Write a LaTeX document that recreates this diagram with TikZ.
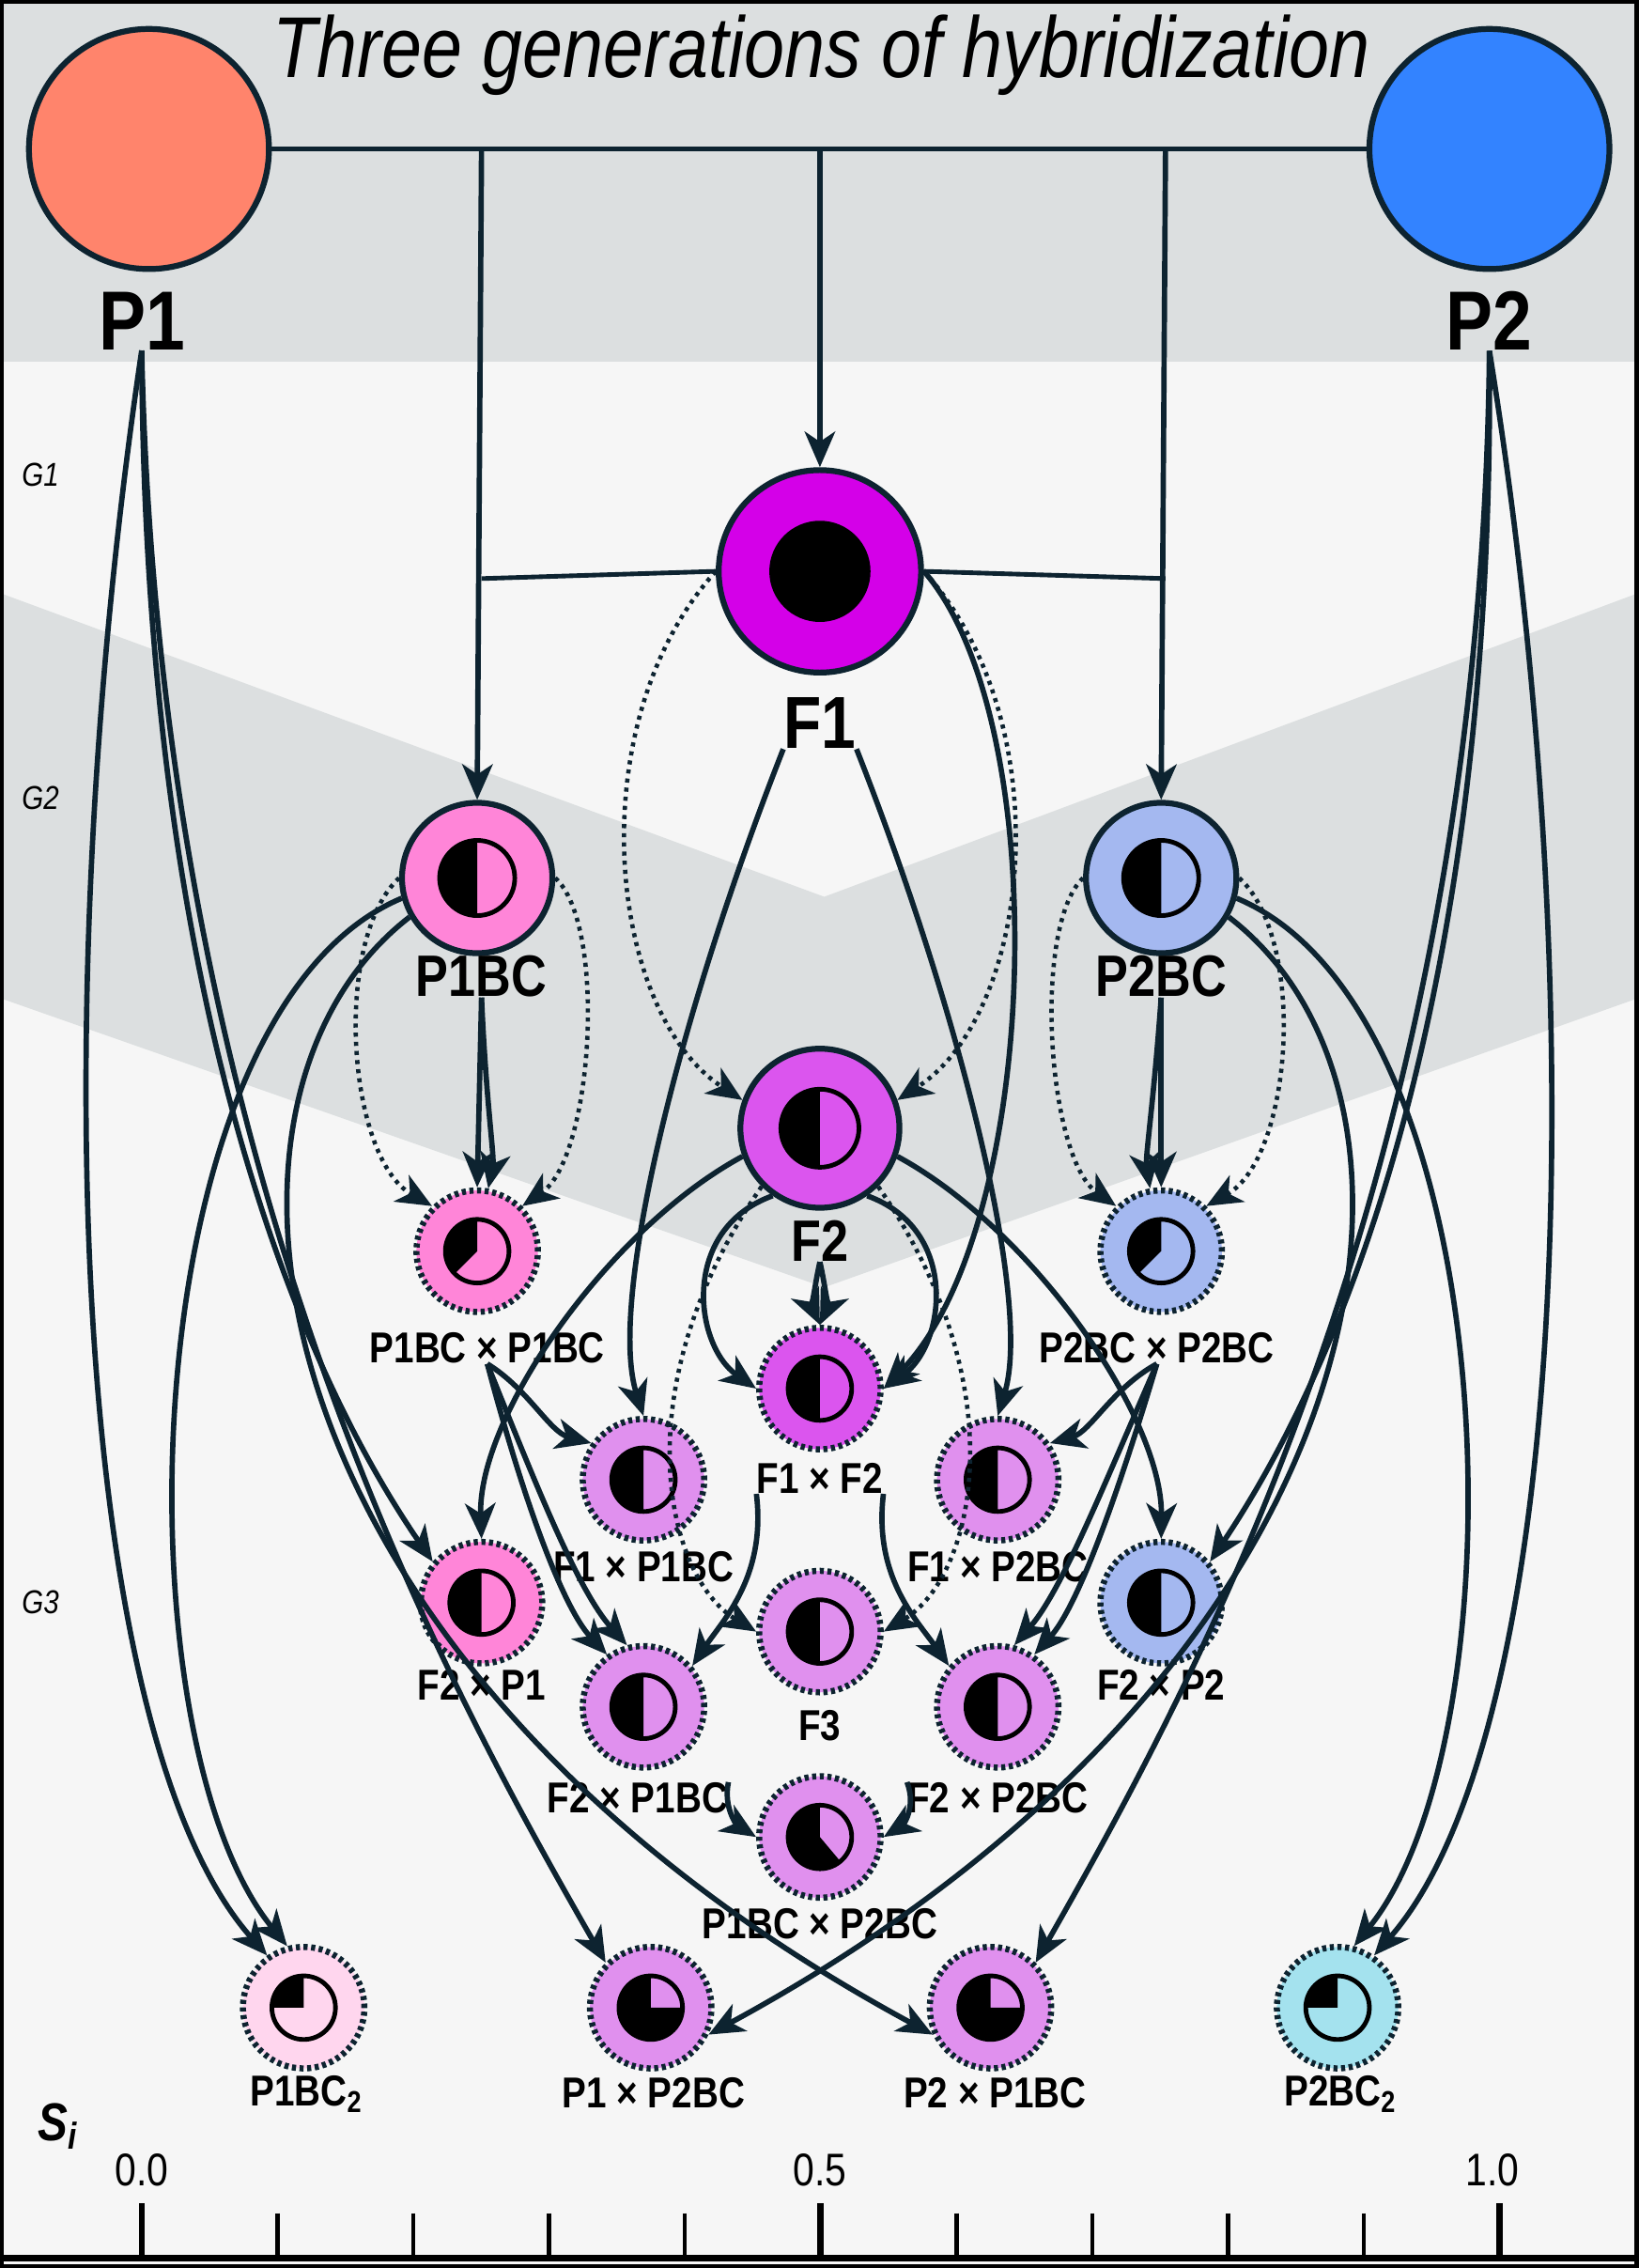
\documentclass[tikz,border=0pt]{standalone}
\usepackage{fontspec}
\setmainfont{Liberation Sans}[FakeStretch=0.84]
\usetikzlibrary{arrows.meta}
\definecolor{ink}{HTML}{0D2330}
\definecolor{bgc}{HTML}{F6F6F6}
\definecolor{band}{HTML}{DCDFE0}
\definecolor{cPone}{HTML}{FF846C}
\definecolor{cPtwo}{HTML}{3383FF}
\definecolor{cFone}{HTML}{D400E8}
\definecolor{cFtwo}{HTML}{DB55EE}
\definecolor{cBone}{HTML}{FF85D8}
\definecolor{cBtwo}{HTML}{A4B8F0}
\definecolor{lav}{HTML}{E090EE}
\definecolor{cCone}{HTML}{FFD6EE}
\definecolor{cCtwo}{HTML}{A4E2EE}
\tikzstyle{parent} = [circle, draw=ink, line width=2.3pt, inner sep=0pt, minimum size=3.32cm]
\tikzstyle{fone} = [circle, draw=ink, line width=2.3pt, inner sep=0pt, minimum size=2.8cm]
\tikzstyle{bcross} = [circle, draw=ink, line width=2.3pt, inner sep=0pt, minimum size=2.08cm]
\tikzstyle{hybrid} = [circle, draw=ink, line width=2.4pt, inner sep=0pt, minimum size=1.68cm,
    dash pattern=on 1.6pt off 1.4pt]
\tikzstyle{big} = [font=\bfseries\fontsize{33}{35}\selectfont, inner sep=0pt]
\tikzstyle{mid} = [font=\bfseries\fontsize{23}{25}\selectfont, inner sep=0pt]
\tikzstyle{small} = [font=\bfseries\fontsize{17}{19}\selectfont, inner sep=0pt]
\tikzstyle{line} = [draw=ink, line width=2.1pt, -{Stealth[length=14pt,width=12pt,inset=4pt]}]
\tikzstyle{dline} = [line, dash pattern=on 1.6pt off 2pt, line width=1.7pt]
\tikzstyle{line1} = [draw=ink, line width=1.8pt]
% black share of the inner disc
\newcommand{\share}[4]{%
  \fill[black] (#1.center) -- ++(#3:#2) arc[start angle=#3, end angle=#4, radius=#2] -- cycle;
  \draw[black, line width=1.8pt] (#1.center) circle[radius=#2];}
\begin{document}
\begin{tikzpicture}[x=0.02cm, y=-0.02cm]
    \useasboundingbox (0,0) rectangle (1133,1568);
    % background
    \fill[bgc] (0,0) rectangle (1133,1568);
    \fill[band] (0,0) rectangle (1133,250);
    \fill[band] (0,410) -- (570,620) -- (1133,410) -- (1133,690) -- (570,890) -- (0,690) -- cycle;
    \draw[black, line width=1.8pt] (1,1) rectangle (1132,1567);

    \node[font=\itshape\fontsize{34}{36}\selectfont] (title) at (568,38) {Three generations of hybridization};
    \node[font=\itshape\fontsize{13}{15}\selectfont] (g1) at (28,328) {G1};
    \node[font=\itshape\fontsize{13}{15}\selectfont] (g2) at (28,552) {G2};
    \node[font=\itshape\fontsize{13}{15}\selectfont] (g3) at (28,1108) {G3};

    % Place nodes
    \node[parent, fill=cPone] (P1) at (103,103) {};
    \node[parent, fill=cPtwo] (P2) at (1030,103) {};
    \node[big] (lP1) at (98,222) {P1};
    \node[big] (lP2) at (1030,222) {P2};
    \node[fone, fill=cFone] (F1) at (567,395) {};
    \fill[black] (F1.center) circle[radius=0.7cm];
    \node[font=\bfseries\fontsize{29}{31}\selectfont, inner sep=0pt] (lF1) at (567,500) {F1};
    \node[bcross, fill=cBone] (P1BC) at (330,607) {};
    \node[bcross, fill=cBtwo] (P2BC) at (803,607) {};
    \node[mid] (lP1BC) at (333,675) {P1BC};
    \node[mid] (lP2BC) at (803,675) {P2BC};
    \node[bcross, minimum size=2.2cm, fill=cFtwo] (F2) at (567,780) {};
    \node[mid] (lF2) at (567,858) {F2};
    \share{P1BC}{0.52cm}{90}{270}
    \share{P2BC}{0.52cm}{90}{270}
    \share{F2}{0.54cm}{90}{270}

    \node[hybrid, fill=cBone] (pp1) at (330,865) {};
    \node[hybrid, fill=cBtwo] (pp2) at (803,865) {};
    \node[hybrid, fill=cFtwo] (ff) at (567,960) {};
    \node[hybrid, fill=lav] (fp1) at (445,1023) {};
    \node[hybrid, fill=lav] (fp2) at (690,1023) {};
    \node[hybrid, fill=cBone] (fx1) at (333,1108) {};
    \node[hybrid, fill=cBtwo] (fx2) at (803,1108) {};
    \node[hybrid, fill=lav] (f3) at (567,1128) {};
    \node[hybrid, fill=lav] (fb1) at (445,1180) {};
    \node[hybrid, fill=lav] (fb2) at (690,1180) {};
    \node[hybrid, fill=lav] (bb) at (567,1270) {};
    \node[hybrid, fill=cCone] (c1) at (210,1388) {};
    \node[hybrid, fill=lav] (x1) at (450,1388) {};
    \node[hybrid, fill=lav] (x2) at (685,1388) {};
    \node[hybrid, fill=cCtwo] (c2) at (925,1388) {};
    \share{pp1}{0.44cm}{90}{225}
    \share{pp2}{0.44cm}{90}{225}
    \foreach \n in {ff,fp1,fp2,fx1,fx2,f3,fb1,fb2} {\share{\n}{0.44cm}{90}{270}}
    \share{bb}{0.44cm}{90}{310}
    \share{c1}{0.44cm}{90}{180}
    \share{c2}{0.44cm}{90}{180}
    \share{x1}{0.44cm}{90}{360}
    \share{x2}{0.44cm}{90}{360}

    \node[small] (lpp1) at (337,932) {P1BC × P1BC};
    \node[small] (lpp2) at (800,932) {P2BC × P2BC};
    \node[small] (lff) at (567,1022) {F1 × F2};
    \node[small] (lfp1) at (445,1083) {F1 × P1BC};
    \node[small] (lfp2) at (690,1083) {F1 × P2BC};
    \node[small] (lfx1) at (333,1165) {F2 × P1};
    \node[small] (lfx2) at (803,1165) {F2 × P2};
    \node[small] (lf3) at (567,1193) {F3};
    \node[small] (lfb1) at (441,1243) {F2 × P1BC};
    \node[small] (lfb2) at (690,1243) {F2 × P2BC};
    \node[small] (lbb) at (567,1330) {P1BC × P2BC};
    \node[small] (lc1) at (212,1448) {P1BC\textsubscript{2}};
    \node[small] (lx1) at (452,1447) {P1 × P2BC};
    \node[small] (lx2) at (688,1447) {P2 × P1BC};
    \node[small] (lc2) at (927,1448) {P2BC\textsubscript{2}};

    % axis
    \node[font=\bfseries\itshape\fontsize{21}{23}\selectfont] (si) at (40,1470) {S\textsubscript{\itshape i}};
    \node[font=\fontsize{18}{20}\selectfont] (t0) at (98,1500) {0.0};
    \node[font=\fontsize{18}{20}\selectfont] (t5) at (567,1500) {0.5};
    \node[font=\fontsize{18}{20}\selectfont] (t10) at (1032,1500) {1.0};
    \draw[black, line width=2.4pt] (0,1561) -- (1133,1561);
    \foreach \k in {1,2,3,4,6,7,8,9} {\draw[black, line width=1.7pt] (98+93.9*\k,1530) -- (98+93.9*\k,1561);}
    \foreach \k in {0,5,10} {\draw[black, line width=2.4pt] (98+93.9*\k,1523) -- (98+93.9*\k,1561);}

    % Draw edges
    \coordinate (j1) at (333,103);
    \coordinate (j2) at (567,103);
    \coordinate (j3) at (806,103);
    \coordinate (k1) at (333,400);
    \coordinate (k2) at (806,400);
    \path[line1] (P1.east) -- (P2.west);
    \path[line] (j1) -- (P1BC.north);
    \path[line] (j2) -- (F1.north);
    \path[line] (j3) -- (P2BC.north);
    \path[line1] (k1) -- (F1.west);
    \path[line1] (F1.east) -- (k2);

    % left half
    \path[line] (lP1.south) .. controls (30,700) and (50,1200) .. (c1.125);
    \path[line] (P1BC.195) .. controls (90,700) and (80,1200) .. (c1.105);
    \path[line] (lP1.south) .. controls (100,700) and (210,950) .. (fx1.140);
    \path[line] (lP1.south) .. controls (110,800) and (300,1150) .. (x1.135);
    \path[line] (P1BC.210) .. controls (120,760) and (170,1150) .. (x2.205);
    \path[line] (lP1BC.south) -- (pp1.north);
    \path[line] (lP1BC.south) .. controls (336,760) and (342,800) .. (pp1.80);
    \path[dline] (P1BC.east) .. controls (420,640) and (410,800) .. (pp1.45);
    \path[dline] (P1BC.west) .. controls (230,650) and (240,800) .. (pp1.135);
    \path[line] (lpp1.south) .. controls (372,1030) and (400,1100) .. (fb1.105);
    \path[line] (lpp1.south) .. controls (360,1030) and (388,1110) .. (fb1.125);
    \path[line] (lpp1.south) .. controls (365,960) and (380,990) .. (fp1.145);
    \path[line] (lF1.south west) .. controls (470,700) and (420,900) .. (fp1.north);
    \path[line] (F2.200) .. controls (420,850) and (330,980) .. (fx1.north);
    \path[dline] (F2.225) .. controls (430,960) and (460,1090) .. (f3.west);
    \path[dline] (F1.west) .. controls (400,500) and (420,700) .. (F2.160);
    \path[line] (F2.235) .. controls (470,850) and (480,930) .. (ff.west);
    \path[line] (lF2.south) .. controls (563,890) and (562,905) .. (ff.north);
    \path[line] (lff.south west) .. controls (530,1090) and (500,1120) .. (fb1.40);
    \path[line] (lfb1.north east) .. controls (500,1250) and (510,1262) .. (bb.west);
    \path[line] (F1.east) .. controls (730,500) and (720,850) .. (ff.east);

    % right half
    \path[line] (lP2.south) .. controls (1104,700) and (1084,1200) .. (c2.55);
    \path[line] (P2BC.345) .. controls (1044,700) and (1054,1200) .. (c2.75);
    \path[line] (lP2.south) .. controls (1034,700) and (924,950) .. (fx2.40);
    \path[line] (lP2.south) .. controls (1024,800) and (834,1150) .. (x2.45);
    \path[line] (P2BC.330) .. controls (1014,760) and (964,1150) .. (x1.335);
    \path[line] (lP2BC.south) -- (pp2.north);
    \path[line] (lP2BC.south) .. controls (798,760) and (792,800) .. (pp2.100);
    \path[dline] (P2BC.west) .. controls (714,640) and (724,800) .. (pp2.135);
    \path[dline] (P2BC.east) .. controls (904,650) and (894,800) .. (pp2.45);
    \path[line] (lpp2.south) .. controls (762,1030) and (734,1100) .. (fb2.75);
    \path[line] (lpp2.south) .. controls (774,1030) and (746,1110) .. (fb2.55);
    \path[line] (lpp2.south) .. controls (769,960) and (754,990) .. (fp2.35);
    \path[line] (lF1.south east) .. controls (664,700) and (714,900) .. (fp2.north);
    \path[line] (F2.340) .. controls (714,850) and (804,980) .. (fx2.north);
    \path[dline] (F2.315) .. controls (704,960) and (674,1090) .. (f3.east);
    \path[dline] (F1.east) .. controls (734,500) and (714,700) .. (F2.20);
    \path[line] (F2.305) .. controls (664,850) and (654,930) .. (ff.east);
    \path[line] (lF2.south) .. controls (571,890) and (572,905) .. (ff.north);
    \path[line] (lff.south east) .. controls (604,1090) and (634,1120) .. (fb2.140);
    \path[line] (lfb2.north west) .. controls (634,1250) and (624,1262) .. (bb.east);
\end{tikzpicture}
\end{document}
